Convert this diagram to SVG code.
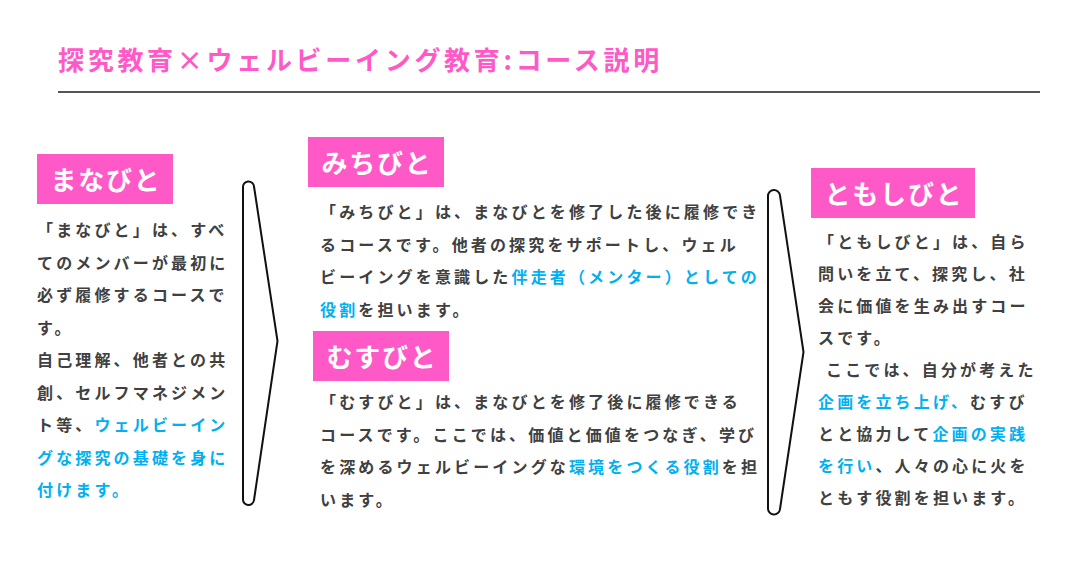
<svg xmlns="http://www.w3.org/2000/svg" width="1082" height="568" viewBox="0 0 1082 568">
<style>
.title{font-family:"Noto Sans CJK JP","Noto Sans",sans-serif;font-weight:700;font-size:26px;letter-spacing:3.7px;fill:#FF59C7}
.boxtxt{font-family:"Noto Sans CJK JP","Noto Sans",sans-serif;font-weight:700;font-size:26px;letter-spacing:1.8px;fill:#FFFFFF;text-anchor:middle}
.box{fill:#FF59C7}
.body{font-family:"Noto Sans CJK JP","Noto Sans",sans-serif;font-weight:700;font-size:16px;letter-spacing:3.15px;fill:#404040}
.hl{fill:#00B0F0}
.br{fill:none;stroke:#111;stroke-width:2;stroke-linejoin:round}
</style>
<rect width="1082" height="568" fill="#FFFFFF"/>
<g id="header">
<text class="title" x="58" y="70">探究教育×ウェルビーイング教育:コース説明</text>
<line x1="58" y1="92" x2="1040" y2="92" stroke="#555555" stroke-width="2"/>
</g>
<g id="manabito">
<rect class="box" x="37" y="154" width="136" height="50"/>
<text class="boxtxt" x="106" y="190">まなびと</text>
<text class="body" x="37" y="236">「まなびと」は、すべ</text>
<text class="body" x="37" y="268.5">てのメンバーが最初に</text>
<text class="body" x="37" y="301">必ず履修するコースで</text>
<text class="body" x="37" y="333.5">す。</text>
<text class="body" x="37" y="366">自己理解、他者との共</text>
<text class="body" x="37" y="398.5">創、セルフマネジメン</text>
<text class="body" x="37" y="431">ト等、<tspan class="hl">ウェルビーイン</tspan></text>
<text class="body hl" x="37" y="463.5">グな探究の基礎を身に</text>
<text class="body hl" x="37" y="496">付けます。</text>
</g>
<g id="michibito">
<rect class="box" x="308" y="137" width="136" height="50"/>
<text class="boxtxt" x="377" y="173">みちびと</text>
<text class="body" x="320" y="218">「みちびと」は、まなびとを修了した後に履修でき</text>
<text class="body" x="320" y="250.5">るコースです。他者の探究をサポートし、ウェル</text>
<text class="body" x="320" y="283">ビーイングを意識した<tspan class="hl">伴走者（メンター）としての</tspan></text>
<text class="body" x="320" y="315.5"><tspan class="hl">役割</tspan>を担います。</text>
</g>
<g id="musubito">
<rect class="box" x="313" y="331" width="136" height="50"/>
<text class="boxtxt" x="382" y="367">むすびと</text>
<text class="body" x="320" y="408">「むすびと」は、まなびとを修了後に履修できる</text>
<text class="body" x="320" y="440.5">コースです。ここでは、価値と価値をつなぎ、学び</text>
<text class="body" x="320" y="473">を深めるウェルビーイングな<tspan class="hl">環境をつくる役割</tspan>を担</text>
<text class="body" x="320" y="505.5">います。</text>
</g>
<g id="tomoshibito">
<rect class="box" x="811" y="168" width="164" height="50"/>
<text class="boxtxt" x="894" y="204">ともしびと</text>
<text class="body" x="818" y="248">「ともしびと」は、自ら</text>
<text class="body" x="818" y="280">問いを立て、探究し、社</text>
<text class="body" x="818" y="312">会に価値を生み出すコー</text>
<text class="body" x="818" y="344">スです。</text>
<text class="body" x="826" y="376">ここでは、自分が考えた</text>
<text class="body" x="818" y="408"><tspan class="hl">企画を立ち上げ、</tspan>むすび</text>
<text class="body" x="818" y="440">とと協力して<tspan class="hl">企画の実践</tspan></text>
<text class="body" x="818" y="472"><tspan class="hl">を行い</tspan>、人々の心に火を</text>
<text class="body" x="818" y="504">ともす役割を担います。</text>
</g>
<g id="connectors">
<path class="br" d="M243,499 L243,187.5 A5.5,5.5 0 0 1 254,186.5 L277.5,341 L254,500 A5.5,5.5 0 0 1 243,499 Z"/>
<path class="br" d="M768,508 L768,196.5 A6,6 0 0 1 780,195.5 L803.5,352 L780,509 A6,6 0 0 1 768,508 Z"/>
</g>
</svg>
